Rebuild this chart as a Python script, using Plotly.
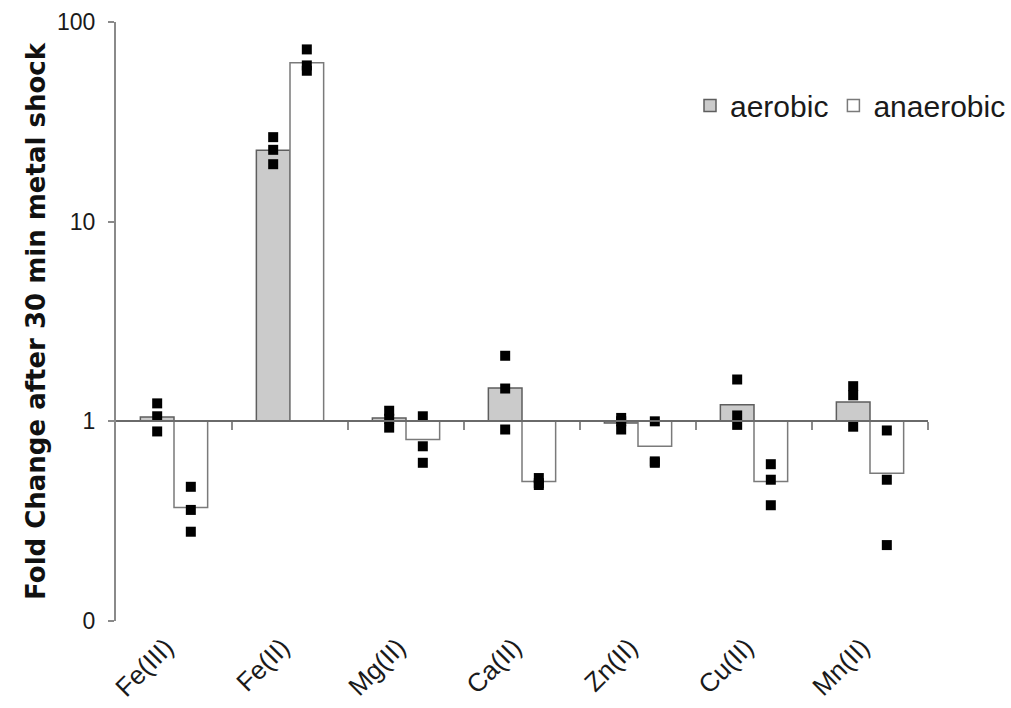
import plotly.graph_objects as go

# Metals tested and mean fold change (bars) per condition
metals = ["Fe(III)", "Fe(II)", "Mg(II)", "Ca(II)", "Zn(II)", "Cu(II)", "Mn(II)"]
aerobic_mean = [1.05, 22.8, 1.04, 1.47, 0.98, 1.21, 1.25]
anaerobic_mean = [0.37, 62.5, 0.81, 0.50, 0.75, 0.50, 0.55]

# Individual replicate measurements
aerobic_reps = [
    [1.23, 1.06, 0.89],
    [26.5, 22.9, 19.4],
    [1.13, 1.03, 0.93],
    [2.13, 1.46, 0.91],
    [1.04, 1.00, 0.91],
    [1.62, 1.07, 0.96],
    [1.50, 1.35, 0.94],
]
anaerobic_reps = [
    [0.47, 0.36, 0.28],
    [72.9, 60.6, 57.0],
    [1.06, 0.75, 0.62],
    [0.52, 0.49, 0.48],
    [1.00, 0.63, 0.62],
    [0.61, 0.51, 0.38],
    [0.90, 0.51, 0.24],
]

y_tick_vals = [0.1, 1, 10, 100]
y_tick_text = ["0", "1", "10", "100"]

FONT = "Arial, Liberation Sans, sans-serif"
TITLE_FONT = "DejaVu Sans, Arial, sans-serif"
BAR_W = 0.29          # width of one bar in category units
BASELINE = 1          # bars grow up/down from a fold change of 1

idx = list(range(len(metals)))

fig = go.Figure()

# Bars drawn from the baseline of 1 on the log axis
fig.add_trace(go.Bar(
    x=idx, y=[v - BASELINE for v in aerobic_mean], base=BASELINE,
    width=BAR_W, offset=-BAR_W, name="aerobic",
    marker=dict(color="#cbcbcb", line=dict(color="#5e5e5e", width=1.5)),
    hoverinfo="skip",
))
fig.add_trace(go.Bar(
    x=idx, y=[v - BASELINE for v in anaerobic_mean], base=BASELINE,
    width=BAR_W, offset=0, name="anaerobic",
    marker=dict(color="white", line=dict(color="#7a7a7a", width=1.5)),
    hoverinfo="skip",
))

# Replicate points centred on their bars
for reps, shift in ((aerobic_reps, -BAR_W / 2), (anaerobic_reps, BAR_W / 2)):
    xs, ys = [], []
    for i, vals in zip(idx, reps):
        xs += [i + shift] * len(vals)
        ys += vals
    fig.add_trace(go.Scatter(
        x=xs, y=ys, mode="markers", showlegend=False,
        marker=dict(symbol="square", size=10, color="black"),
    ))

# Invisible helper trace that carries the category labels axis
fig.add_trace(go.Scatter(
    x=idx, y=[BASELINE] * len(idx), xaxis="x2", mode="markers",
    marker=dict(opacity=0), showlegend=False, hoverinfo="skip",
))

fig.update_layout(
    width=1011, height=708,
    margin=dict(l=116, r=83, t=22, b=87, autoexpand=False),
    paper_bgcolor="white", plot_bgcolor="white",
    font=dict(family=FONT, color="#1a1a1a"),
    barmode="overlay",
    showlegend=True,
    legend=dict(
        orientation="h", xref="container", yref="container",
        x=1.0, xanchor="right", y=0.851, yanchor="middle",
        font=dict(size=30, color="#1a1a1a"), bgcolor="rgba(0,0,0,0)",
        itemwidth=30, traceorder="normal",
    ),
    xaxis=dict(
        range=[-0.5, len(metals) - 0.5],
        anchor="free", position=1 / 3, automargin=False,
        showline=True, linecolor="#6a6a6a", linewidth=2,
        tickvals=[i + 0.5 for i in idx], ticks="outside", ticklen=8,
        tickcolor="#8a8a8a", tickwidth=2,
        showticklabels=False, showgrid=False, zeroline=False,
    ),
    xaxis2=dict(
        overlaying="x", matches="x", anchor="y", side="bottom",
        automargin=False,
        tickvals=idx, ticktext=metals, tickangle=-45,
        tickfont=dict(size=26, family=FONT, color="#1a1a1a"),
        ticklabelshift=-8, ticklabelstandoff=5,
        showline=False, ticks="", showgrid=False, zeroline=False,
    ),
    yaxis=dict(
        type="log", range=[-1, 2], automargin=False,
        tickvals=y_tick_vals, ticktext=y_tick_text,
        tickfont=dict(size=23, color="#1a1a1a"),
        ticks="outside", ticklen=6, tickcolor="#8a8a8a", tickwidth=2,
        ticklabelstandoff=8,
        showline=True, linecolor="#8a8a8a", linewidth=2,
        showgrid=False, zeroline=False,
        title=dict(text="<b>Fold Change after 30 min metal shock</b>",
                   font=dict(size=26, family=TITLE_FONT, color="#111111"),
                   standoff=4),
    ),
)

fig.write_html("out.html")
